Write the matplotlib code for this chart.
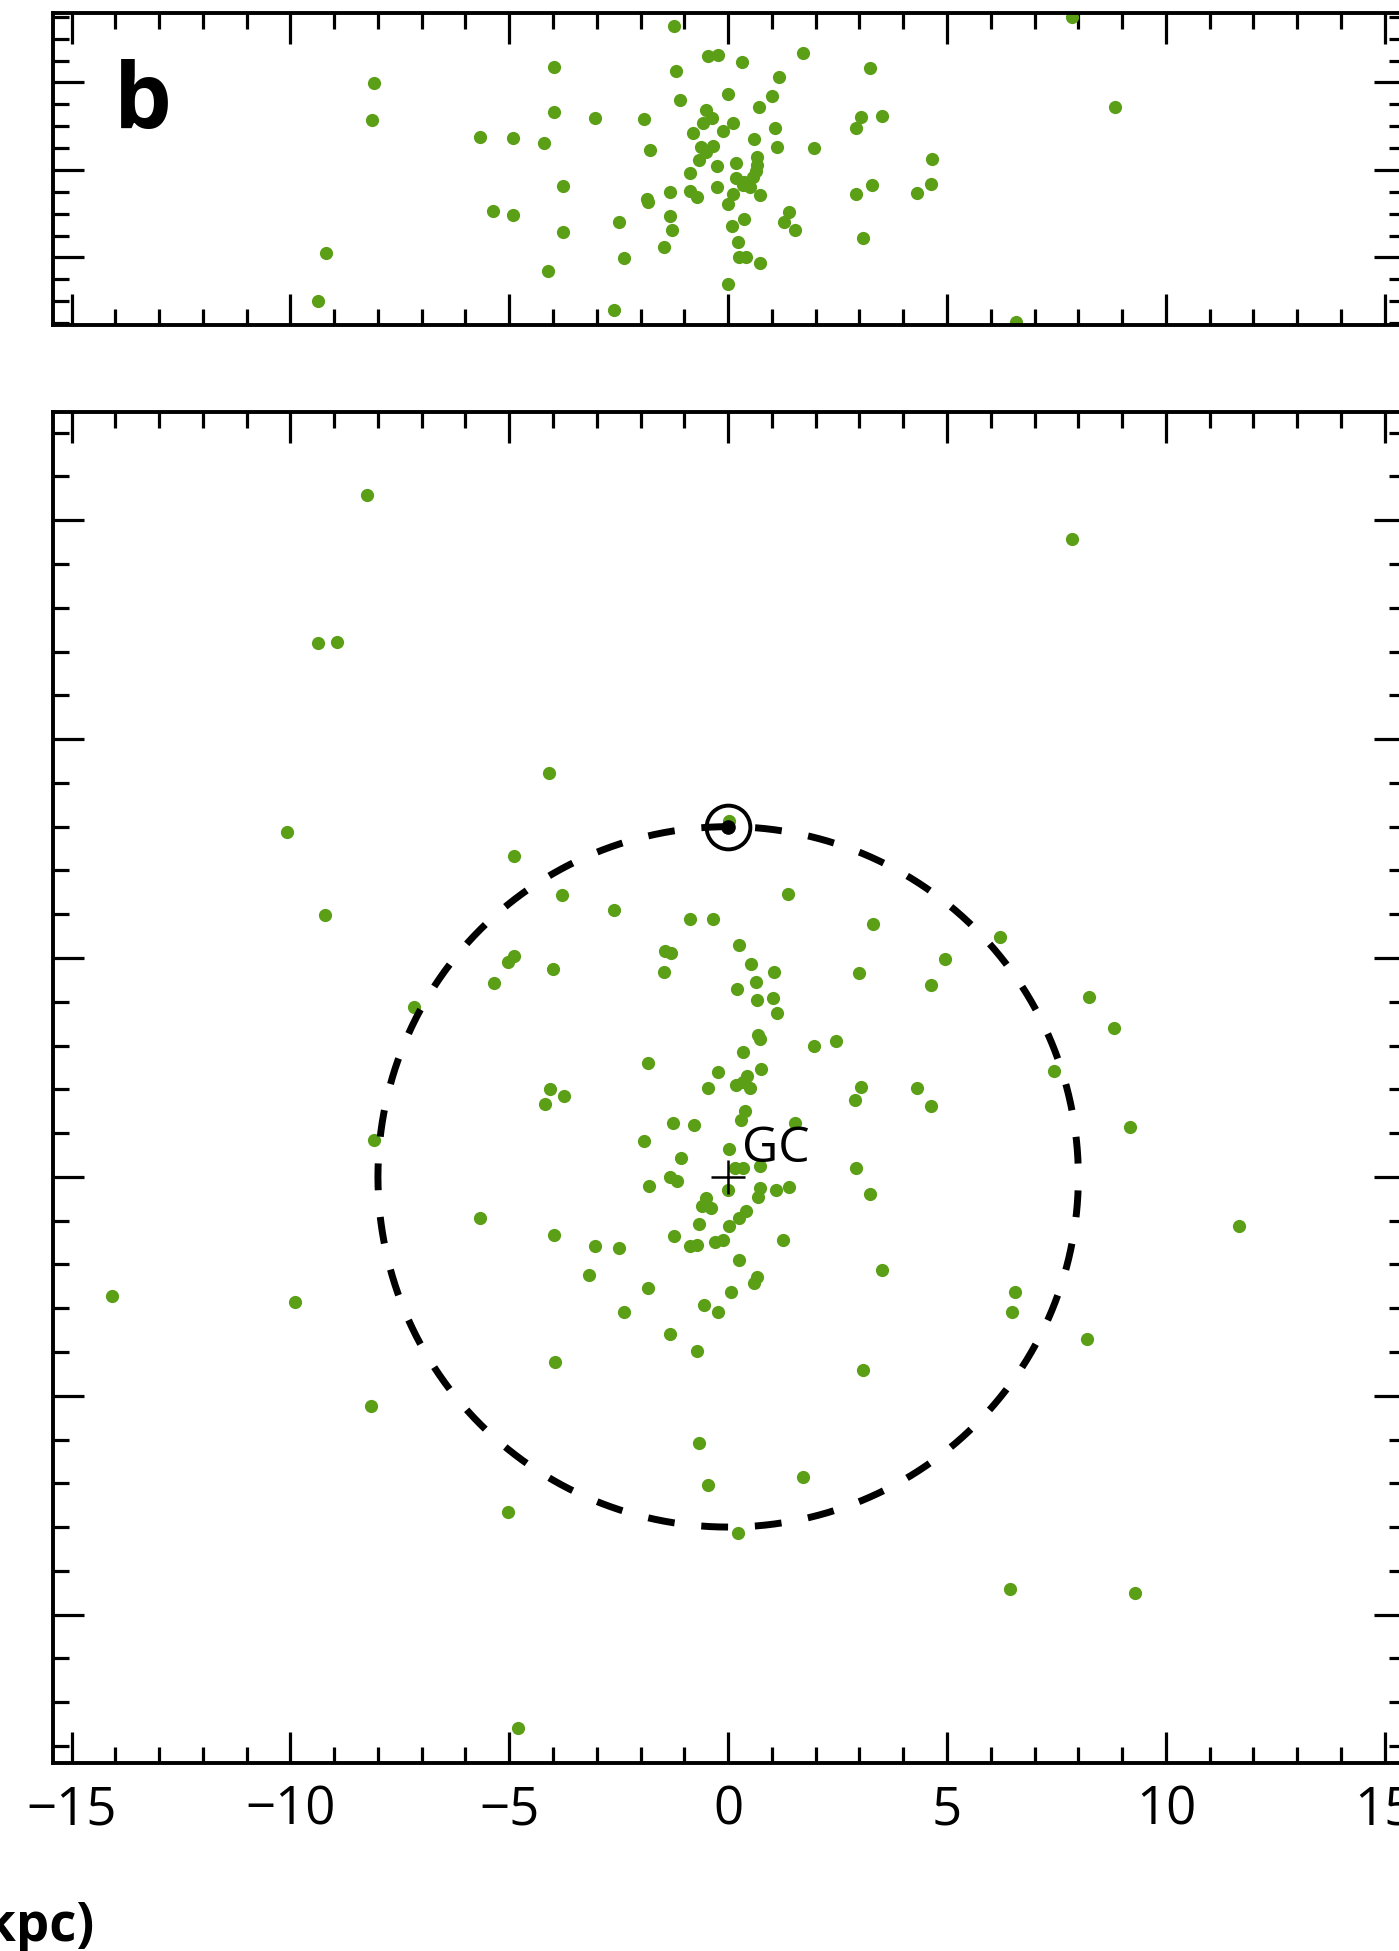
import numpy as np
import matplotlib
matplotlib.use('Agg')
import matplotlib.pyplot as plt
from matplotlib.ticker import MultipleLocator

plt.rcParams['font.family'] = ['Open Sans', 'DejaVu Sans']

# face-on view (x, y) in kpc
face_x = [-8.25, 7.85, -9.37, -8.93, -4.10, -10.08, -9.20, -14.08, -9.90, -8.15,
          -8.10, -4.81, 6.43, 9.30, 11.67, 9.19, 8.82, 8.25, 7.45, 6.21,
          8.19, 6.56, 6.48, 3.09, 3.51, 1.72, 0.22, -0.45, -0.66, -5.03,
          -3.95,
          -4.90, -3.79, -2.60, -0.87, -0.35, 0.25, -1.44, -1.31, -1.46, -4.90,
          -5.03, -3.99, -5.36, -7.17, 0.52, 1.05, 0.63, 0.20, 0.66, 1.02,
          1.11, 0.68, 0.73, 0.34, -1.82, -0.24, 0.75, 0.43, -0.45, 0.18,
          0.50, 0.33, -4.08, -3.74, -4.18, 0.39, 0.30, -1.27, -0.79, -1.93,
          0.01, -1.08, 0.16, 0.35, 0.73, -1.33, -1.17, -1.80, 0.01,
          1.36, 3.30, 2.99, 4.63, 4.96, 1.97, 2.47, 3.04, 2.90, 4.31,
          4.63, 1.53, 2.92, 3.24, 1.39, 1.10,
          -5.68, -3.97, -3.05, -2.50, -3.17, -1.84, -2.37, -1.33, -0.72, -1.23,
          -0.87, -0.72, -0.66, -0.60, -0.39, -0.50, -0.01, -0.30, -0.11, 0.01,
          0.24, 0.41, 0.24, 0.66, 0.59, 0.06, -0.56, -0.24, 0.72, 0.69,
          1.25]
face_y = [15.57, 14.57, 12.19, 12.21, 9.22, 7.88, 5.99, -2.73, -2.87, -5.24,
          0.85, -12.60, -9.42, -9.51, -1.12, 1.13, 3.41, 4.12, 2.42, 5.49,
          -3.70, -2.64, -3.08, -4.42, -2.12, -6.85, -8.14, -7.05, -6.07, -7.65,
          -4.24,
          7.33, 6.43, 6.10, 5.89, 5.89, 5.29, 5.15, 5.11, 4.67, 5.05,
          4.92, 4.74, 4.42, 3.89, 4.86, 4.69, 4.45, 4.29, 4.04, 4.08,
          3.75, 3.24, 3.15, 2.86, 2.61, 2.39, 2.46, 2.31, 2.03, 2.10,
          2.03, 2.17, 2.01, 1.84, 1.66, 1.51, 1.30, 1.24, 1.18, 0.83,
          0.63, 0.44, 0.20, 0.20, 0.24, 0.00, -0.10, -0.20, 8.12,
          6.46, 5.78, 4.65, 4.39, 4.97, 3.00, 3.11, 2.05, 1.76, 2.03,
          1.62, 1.23, 0.20, -0.38, -0.23, -0.29,
          -0.94, -1.33, -1.58, -1.63, -2.24, -2.53, -3.08, -3.59, -3.98, -1.35,
          -1.58, -1.55, -1.08, -0.66, -0.72, -0.49, -0.30, -1.48, -1.45, -1.13,
          -0.94, -0.78, -1.90, -2.28, -2.43, -2.64, -2.92, -3.09, -0.26, -0.45,
          -1.44]

# edge-on view (x, z) in kpc
side_x = [-1.24, -0.46, -0.23, 0.31, 1.72, 3.24, -3.97, -1.18, 1.17, 0.00,
          1.01, -1.09, 0.71, -0.50, -3.98, -3.05, -1.93, -0.38, -0.58, 0.11,
          3.03, 3.51, 2.93, 1.07, -0.80, -0.11, -5.67, -4.91, -4.20, 0.60,
          1.11, 1.96, -1.79, -0.62, -0.34, -0.50, -0.66, 0.66, 0.67, 4.66,
          0.19, -0.26, -0.88, 0.19, 0.36, 0.56, 0.64, 0.50, 0.33, 0.72,
          -0.26, -3.77, -1.32, -0.87, -0.72, -1.85, -1.84, 0.11, -0.01, 3.29,
          2.91, 4.64, 4.31, -5.37, -4.91, -1.32, 1.40, 1.27, 1.52, 0.36,
          -2.50, 0.09, -1.28, -3.78, 3.07, 0.23, -1.46, 0.24, 0.40, 0.72,
          -2.38, -4.11, 0.00, -2.61, -8.09, -8.13, -9.19, -9.37, 8.83, 6.58,
          7.85]
side_z = [3.29, 2.60, 2.63, 2.46, 2.67, 2.34, 2.36, 2.26, 2.13, 1.74,
          1.68, 1.60, 1.43, 1.37, 1.33, 1.19, 1.17, 1.18, 1.07, 1.08,
          1.20, 1.24, 0.97, 0.97, 0.85, 0.88, 0.75, 0.72, 0.61, 0.70,
          0.53, 0.51, 0.46, 0.53, 0.55, 0.42, 0.23, 0.30, 0.11, 0.24,
          0.15, 0.08, -0.06, -0.19, -0.27, -0.15, -0.02, -0.38, -0.34, -0.57,
          -0.38, -0.37, -0.51, -0.48, -0.61, -0.66, -0.73, -0.56, -0.78, -0.34,
          -0.55, -0.33, -0.53, -0.93, -1.03, -1.05, -0.95, -1.20, -1.37, -1.12,
          -1.20, -1.27, -1.37, -1.42, -1.55, -1.64, -1.75, -1.99, -1.98, -2.12,
          -2.02, -2.31, -2.61, -3.20, 1.98, 1.14, -1.90, -2.99, 1.43, -3.47,
          3.50]

x_ticks = [-15, -10, -5, 0, 5, 10, 15]
r_sun = 8.0

W, H = 1399, 1951
fig = plt.figure(figsize=(W / 100, H / 100), dpi=100)


def px_axes(x0, y0, x1, y1):
    return fig.add_axes([x0 / W, 1 - y1 / H, (x1 - x0) / W, (y1 - y0) / H])


def style(a, ymaj, ymin):
    a.xaxis.set_major_locator(MultipleLocator(5))
    a.xaxis.set_minor_locator(MultipleLocator(1))
    a.yaxis.set_major_locator(MultipleLocator(ymaj))
    a.yaxis.set_minor_locator(MultipleLocator(ymin))
    a.tick_params(which='both', direction='in', top=True, right=True,
                  labelleft=False, width=2.3, color='black')
    a.tick_params(which='major', length=22)
    a.tick_params(which='minor', length=11.5)
    for s in a.spines.values():
        s.set_linewidth(2.8)


green = '#5b9f17'

ax_top = px_axes(52.7, 13.3, 1404.9, 325.3)
ax = px_axes(52.7, 411.7, 1404.9, 1763)

# top panel
ax_top.plot(side_x, side_z, 'o', ms=9.5, color=green, mec='none', zorder=2)
ax_top.set_xlim(-15.43, 15.46)
ax_top.set_ylim(-3.55, 3.58)
style(ax_top, 2, 0.5)
ax_top.tick_params(labelbottom=False)

# bottom panel
ax.plot(face_x, face_y, 'o', ms=9.5, color=green, mec='none', zorder=2)
# solar circle, 41 dash periods so a dash ends at the Sun
th = np.linspace(np.pi / 2, np.pi / 2 + 2 * np.pi, 1441)
circ_pt = 2 * np.pi * r_sun * 43.77 * 0.72
lw = 5.0
half = circ_pt / 41 / 2 / lw
ax.plot(r_sun * np.cos(th), r_sun * np.sin(th), color='black', lw=lw,
        dashes=(half, half), dash_capstyle='butt', zorder=3)
ax.plot(0, r_sun, 'o', ms=31.5, mfc='none', mec='black', mew=2.8, zorder=5)
ax.plot(0, r_sun, 'o', ms=9.5, color='black', zorder=5)
ax.plot(0, 0, '+', ms=24, mew=1.8, color='black', zorder=4)
ax.text(0.31, 0.34, 'GC', fontsize=36, ha='left', va='baseline', zorder=6)
ax.set_xlim(-15.43, 15.46)
ax.set_ylim(-13.39, 17.48)
style(ax, 5, 1)
ax.set_xticks(x_ticks)
ax.set_xticklabels([str(t).replace('-', '\u2212') for t in x_ticks])
ax.tick_params(axis='x', labelsize=38, pad=15)

fig.text(114 / W, 1 - 129 / H, 'b', fontsize=66, fontweight='bold',
         ha='left', va='baseline')
fig.text(94 / W, 1 - 1941 / H, 'x (kpc)', fontsize=38, fontweight='bold',
         ha='right', va='baseline')

fig.savefig('out.png', dpi=100)
